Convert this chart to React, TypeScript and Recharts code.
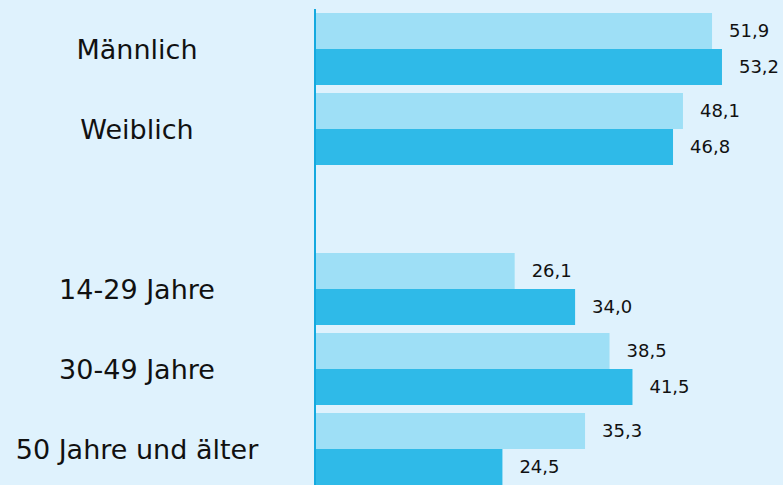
import { BarChart, Bar, XAxis, YAxis, LabelList } from "recharts";

const categories = ["Männlich", "Weiblich", "", "14-29 Jahre", "30-49 Jahre", "50 Jahre und älter"];
const lightValues = [51.9, 48.1, null, 26.1, 38.5, 35.3];
const darkValues = [53.2, 46.8, null, 34.0, 41.5, 24.5];

const data = categories.map((name, i) => ({
  name,
  light: lightValues[i],
  dark: darkValues[i],
}));

const FONT = "'DejaVu Sans', Verdana, sans-serif";
const BG = "#dff2fd";

const fmt = (v: any) => (v == null ? "" : Number(v).toFixed(1).replace(".", ","));

const CategoryTick = (props: any) => {
  const { y, payload } = props;
  return (
    <text
      x={137}
      y={y}
      dy="0.36em"
      textAnchor="middle"
      fontFamily={FONT}
      fontSize={27}
      fill="#111"
    >
      {payload.value}
    </text>
  );
};

export default function App() {
  return (
    <div
      style={{
        position: "fixed",
        top: 0,
        left: 0,
        width: 783,
        height: 485,
        overflow: "hidden",
        background: BG,
      }}
    >
      <style>{`html, body { margin: 0; background: ${BG}; }`}</style>
      <BarChart
        width={783}
        height={490}
        data={data}
        layout="vertical"
        margin={{ top: 9, right: 9, bottom: 1, left: 0 }}
        barCategoryGap={4}
        barGap={0}
      >
        <XAxis type="number" domain={[0, 60]} hide />
        <YAxis
          type="category"
          dataKey="name"
          width={315}
          tickLine={false}
          axisLine={{ stroke: "#14a9df", strokeWidth: 2 }}
          tick={<CategoryTick />}
          interval={0}
        />
        <Bar dataKey="light" fill="#9edff6" isAnimationActive={false}>
          <LabelList
            dataKey="light"
            position="right"
            offset={17}
            formatter={fmt}
            style={{ fontFamily: FONT, fontSize: 18, fill: "#111" }}
          />
        </Bar>
        <Bar dataKey="dark" fill="#2fbae8" isAnimationActive={false}>
          <LabelList
            dataKey="dark"
            position="right"
            offset={17}
            formatter={fmt}
            style={{ fontFamily: FONT, fontSize: 18, fill: "#111" }}
          />
        </Bar>
      </BarChart>
    </div>
  );
}
